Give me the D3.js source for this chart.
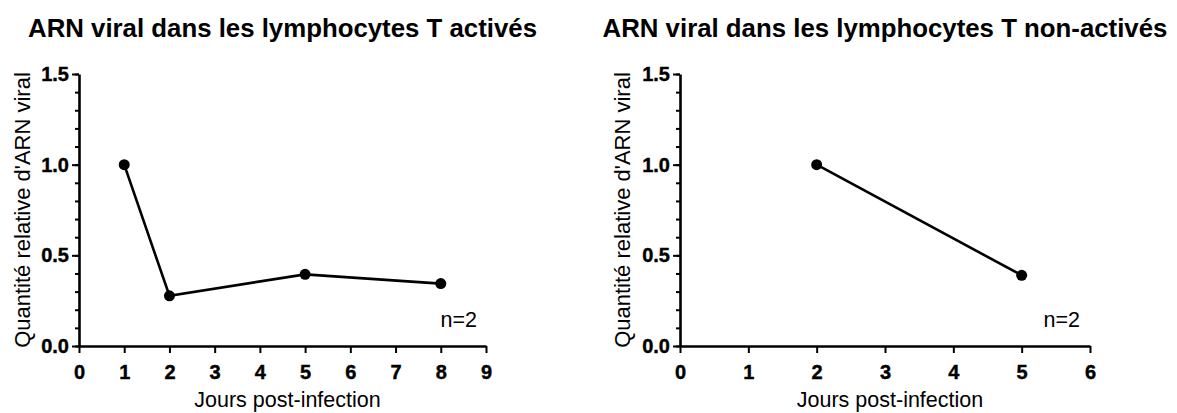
<!DOCTYPE html>
<html>
<head>
<meta charset="utf-8">
<script src="https://cdn.jsdelivr.net/npm/d3@7"></script>
<style>
  body { margin: 0; background: #fff; }
  svg { display: block; font-family: Arial, "Liberation Sans", sans-serif; }
  .tick text { font-size: 20px; font-weight: bold; font-family: Arial, "Liberation Sans", sans-serif; fill: #000; stroke: #000; stroke-width: 0.4px; }
</style>
</head>
<body>
<script>
// data
const daysActive = [1, 2, 5, 8];
const rnaActive = [1.0, 0.277, 0.395, 0.344];
const daysResting = [2, 5];
const rnaResting = [1.0, 0.39];
const yTicks = [0, 0.5, 1.0, 1.5];
const yMinorTicks = d3.range(0, 1.51, 0.1);
const titles = ["ARN viral dans les lymphocytes T activés", "ARN viral dans les lymphocytes T non-activés"];
const xLabel = "Jours post-infection";
const yLabel = "Quantité relative d'ARN viral";
const nLabel = "n=2";

const w = 1177, h = 413;
const svg = d3.select("body").append("svg").attr("width", w).attr("height", h);

const yScale = d3.scaleLinear().domain([0, 1.5]).range([346, 74]);

function styleAxis(a) {
  a.attr("font-size", 20).attr("font-weight", "bold").attr("font-family", "Arial, 'Liberation Sans', sans-serif");
  a.select(".domain").attr("stroke-width", 2.6);
  a.selectAll(".tick line").attr("stroke-width", 2);
}

function drawPanel(opt) {
  const g = svg.append("g");
  const xScale = d3.scaleLinear().domain([0, opt.xmax]).range([opt.x0, opt.x1]);
  const mid = (opt.x0 + opt.x1) / 2;

  // title
  g.append("text")
    .attr("x", mid)
    .attr("y", 37)
    .attr("text-anchor", "middle")
    .style("font-size", "25.8px")
    .style("font-weight", "bold")
    .text(opt.title);

  // minor y ticks
  g.append("g")
    .attr("transform", "translate(" + opt.x0 + ",0)")
    .call(d3.axisLeft(yScale).tickValues(yMinorTicks).tickSize(4).tickSizeOuter(0).tickFormat(""))
    .call(a => a.select(".domain").remove())
    .call(a => a.selectAll("line").attr("stroke-width", 2));

  // major y axis
  g.append("g")
    .attr("transform", "translate(" + opt.x0 + ",0)")
    .call(d3.axisLeft(yScale).tickValues(yTicks).tickSize(7).tickSizeOuter(0).tickPadding(3).tickFormat(d3.format(".1f")))
    .call(styleAxis);

  // x axis
  g.append("g")
    .attr("transform", "translate(0," + yScale(0) + ")")
    .call(d3.axisBottom(xScale).ticks(opt.xmax).tickSize(7).tickSizeOuter(0).tickPadding(12).tickFormat(d3.format("d")))
    .call(styleAxis);

  // axis labels
  g.append("text")
    .attr("x", mid + 5)
    .attr("y", 407)
    .attr("text-anchor", "middle")
    .style("font-size", "21.5px")
    .text(xLabel);

  g.append("text")
    .attr("transform", "translate(" + opt.ylabX + "," + (yScale(0.75)) + ") rotate(-90)")
    .attr("text-anchor", "middle")
    .attr("dy", "0.35em")
    .style("font-size", "22px")
    .text(yLabel);

  // series
  const pts = opt.days.map((d, i) => [d, opt.vals[i]]);
  const line = d3.line().x(d => xScale(d[0])).y(d => yScale(d[1]));
  g.append("path")
    .attr("d", line(pts))
    .attr("fill", "none")
    .attr("stroke", "#000")
    .attr("stroke-width", 2.6);

  g.selectAll("circle.pt")
    .data(pts)
    .enter()
    .append("circle")
    .attr("class", "pt")
    .attr("cx", d => xScale(d[0]))
    .attr("cy", d => yScale(d[1]))
    .attr("r", 5.5)
    .attr("fill", "#000");

  // n=2
  g.append("text")
    .attr("x", opt.nX)
    .attr("y", 327)
    .attr("text-anchor", "end")
    .style("font-size", "21.5px")
    .text(nLabel);
}

drawPanel({ title: titles[0], days: daysActive, vals: rnaActive, xmax: 9, x0: 79, x1: 486, ylabX: 22, nX: 477 });
drawPanel({ title: titles[1], days: daysResting, vals: rnaResting, xmax: 6, x0: 680, x1: 1090, ylabX: 622, nX: 1080 });
</script>
</body>
</html>
